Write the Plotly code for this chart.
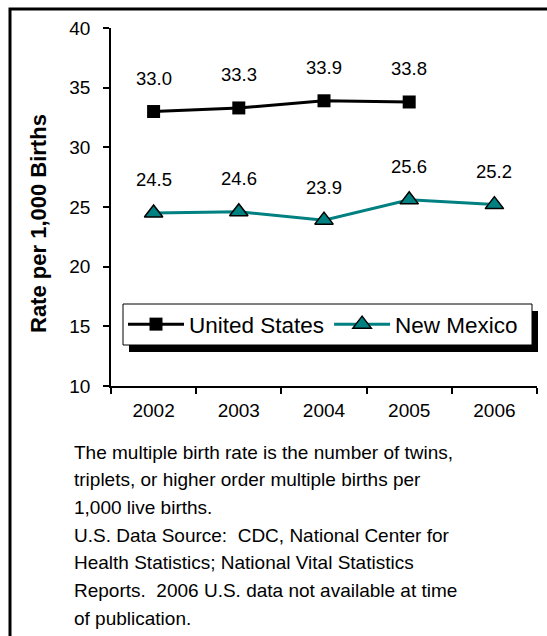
import plotly.graph_objects as go

# Multiple birth rate per 1,000 live births
years = ["2002", "2003", "2004", "2005", "2006"]
us_rate = [33.0, 33.3, 33.9, 33.8, None]
nm_rate = [24.5, 24.6, 23.9, 25.6, 25.2]
series_names = ["United States", "New Mexico"]
y_title = "Rate per 1,000 Births"
footnote_lines = [
    "The multiple birth rate is the number of twins,",
    "triplets, or higher order multiple births per",
    "1,000 live births.",
    "U.S. Data Source:  CDC, National Center for",
    "Health Statistics; National Vital Statistics",
    "Reports.  2006 U.S. data not available at time",
    "of publication.",
]

FONT = "Arial, Liberation Sans, sans-serif"
TEAL = "#008080"

W, H = 547, 636
L, R, T, B = 111, 537, 28, 386  # plot area in pixels


def px_x(x):
    return (x - L) / (R - L)


def px_y(y):
    return (B - y) / (B - T)


fig = go.Figure()
fig.add_trace(go.Scatter(
    x=years, y=us_rate, name=series_names[0], mode="lines+markers",
    line=dict(color="black", width=3),
    marker=dict(symbol="square", size=13, color="black"),
))
fig.add_trace(go.Scatter(
    x=years, y=nm_rate, name=series_names[1], mode="lines+markers",
    line=dict(color=TEAL, width=3),
    marker=dict(symbol="triangle-up", size=16, color=TEAL,
                line=dict(color="black", width=1.5)),
))

annotations = []
# value labels above each point (category axis: position by index)
for series in (us_rate, nm_rate):
    for i, v in enumerate(series):
        if v is None:
            continue
        annotations.append(dict(
            x=i, y=v, xref="x", yref="y", text=f"{v:.1f}", showarrow=False,
            yshift=33, font=dict(family=FONT, size=18.5, color="black"),
        ))

# rotated axis title
annotations.append(dict(
    x=px_x(38), y=px_y(224), xref="paper", yref="paper", text=f"<b>{y_title}</b>",
    textangle=-90, showarrow=False, xanchor="center", yanchor="middle",
    font=dict(family=FONT, size=22, color="black"),
))

# footnote block
line_gap = 27.7
for i, line in enumerate(footnote_lines):
    annotations.append(dict(
        x=px_x(72), y=px_y(452 + i * line_gap), xref="paper", yref="paper",
        text=line, showarrow=False, xanchor="left", yanchor="middle",
        font=dict(family=FONT, size=19, color="black"),
    ))

# legend frame drawn as shapes so it can carry a drop shadow
leg_x0, leg_x1, leg_y0, leg_y1 = 123, 532, 304, 345
shadow_dx, shadow_dy = 6, 7

shapes = [
    # outer frame
    dict(type="rect", xref="paper", yref="paper",
         x0=px_x(10), x1=px_x(570), y0=px_y(9), y1=px_y(660),
         line=dict(color="black", width=3), fillcolor="rgba(0,0,0,0)", layer="below"),
    # legend drop shadow
    dict(type="rect", xref="paper", yref="paper",
         x0=px_x(leg_x0 + shadow_dx), x1=px_x(leg_x1 + shadow_dx),
         y0=px_y(leg_y0 + shadow_dy), y1=px_y(leg_y1 + shadow_dy),
         line=dict(width=0), fillcolor="black", layer="above"),
    # legend box
    dict(type="rect", xref="paper", yref="paper",
         x0=px_x(leg_x0), x1=px_x(leg_x1), y0=px_y(leg_y0), y1=px_y(leg_y1),
         line=dict(color="black", width=1), fillcolor="white", layer="above"),
]

fig.update_layout(
    width=W, height=H,
    margin=dict(l=L, r=W - R, t=T, b=H - B),
    paper_bgcolor="white", plot_bgcolor="white",
    font=dict(family=FONT, size=19, color="black"),
    showlegend=True,
    legend=dict(
        orientation="h", x=px_x(leg_x0), y=px_y((leg_y0 + leg_y1) / 2),
        xanchor="left", yanchor="middle",
        bgcolor="rgba(0,0,0,0)", borderwidth=0,
        font=dict(family=FONT, size=22.5, color="black"),
        itemwidth=56, tracegroupgap=0,
    ),
    annotations=annotations,
    shapes=shapes,
)
fig.update_xaxes(
    type="category", range=[-0.5, 4.5], tickson="boundaries",
    showline=True, linecolor="black", linewidth=1.5,
    ticks="outside", ticklen=6, tickcolor="black", tickwidth=1.5,
    showgrid=False, zeroline=False, ticklabelstandoff=6,
    tickfont=dict(family=FONT, size=19, color="black"),
)
fig.update_yaxes(
    range=[10, 40], dtick=5, tick0=10,
    showline=True, linecolor="black", linewidth=1.5,
    ticks="outside", ticklen=6, tickcolor="black", tickwidth=1.5,
    showgrid=False, zeroline=False, ticklabelstandoff=9,
    tickfont=dict(family=FONT, size=19, color="black"),
)

fig.write_html("out.html")
